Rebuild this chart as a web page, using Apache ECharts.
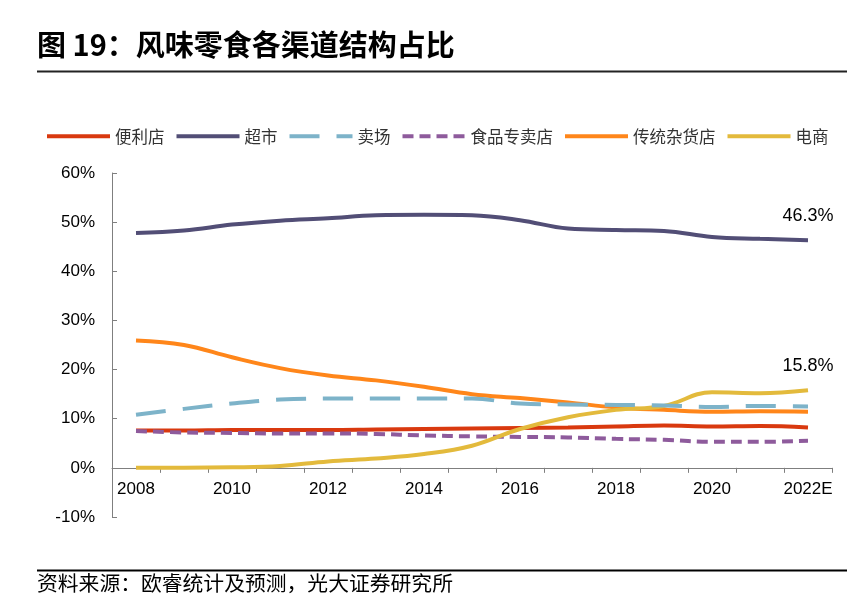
<!DOCTYPE html>
<html><head><meta charset="utf-8">
<script src="https://cdn.jsdelivr.net/npm/echarts@6/dist/echarts.min.js"></script>
<style>html,body{margin:0;padding:0;background:#fff}#c{width:864px;height:613px}</style>
</head><body><div id="c"></div>
<script>
const years = ['2008','2009','2010','2011','2012','2013','2014','2015','2016','2017','2018','2019','2020','2021','2022E'];
const yTicks = [-10, 0, 10, 20, 30, 40, 50, 60];
const convenience = [7.6, 7.6, 7.7, 7.7, 7.7, 7.8, 7.9, 8.0, 8.1, 8.2, 8.4, 8.6, 8.4, 8.5, 8.2];
const supermarket = [47.8, 48.3, 49.5, 50.3, 50.8, 51.4, 51.5, 51.4, 50.4, 48.7, 48.4, 48.2, 47.0, 46.6, 46.3];
const hypermarket = [10.8, 12.0, 13.1, 13.9, 14.1, 14.1, 14.1, 14.1, 13.1, 12.9, 12.8, 12.7, 12.4, 12.6, 12.5];
const specialty = [7.5, 7.2, 7.1, 7.0, 7.0, 6.9, 6.6, 6.4, 6.3, 6.2, 5.9, 5.7, 5.3, 5.3, 5.5];
const traditional = [25.9, 25.0, 22.5, 20.3, 18.8, 17.8, 16.5, 15.0, 14.2, 13.3, 12.3, 11.8, 11.4, 11.5, 11.4];
const ecommerce = [0.0, 0.0, 0.1, 0.4, 1.3, 1.9, 2.8, 4.5, 7.9, 10.3, 11.8, 12.6, 15.4, 15.2, 15.8];
const names = ['便利店','超市','卖场','食品专卖店','传统杂货店','电商'];
const colors = ['#D9390F','#524E76','#7DB3C9','#8E5B9C','#FF861A','#E3BA3C'];
const lineTypes = ['solid','solid',[30,17],[11,6],'solid','solid'];
const allData = [convenience, supermarket, hypermarket, specialty, traditional, ecommerce];
const labelled = {1: true, 5: true};

const chart = echarts.init(document.getElementById('c'), null, {renderer: 'canvas'});
const numFont = '"Liberation Sans", Arial, sans-serif';
const cjkFont = '"Noto Sans CJK SC", sans-serif';

const series = names.map((n, i) => ({
  name: n,
  type: 'line',
  data: allData[i].map((v, j) => {
    if (labelled[i] && j === allData[i].length - 1) {
      return {value: v,
        label: {show: true, position: 'top', distance: 15, formatter: v.toFixed(1) + '%',
        fontFamily: numFont, fontSize: 18, color: '#000'}};
    }
    return v;
  }),
  smooth: 0.4,
  symbol: 'circle',
  symbolSize: 0,
  showSymbol: true,
  legendIcon: 'none',
  lineStyle: {color: colors[i], width: 4, type: lineTypes[i]},
  itemStyle: {color: colors[i]},
  z: i === 2 ? 3 : 2
}));

chart.setOption({
  animation: false,
  backgroundColor: '#fff',
  title: {
    text: '图 19：风味零食各渠道结构占比',
    left: 32, top: 25,
    textStyle: {fontFamily: cjkFont, fontSize: 29, fontWeight: 'bold', color: '#000'}
  },
  legend: {
    data: names,
    left: 40, top: 123,
    itemWidth: 63, itemHeight: 14, itemGap: 10,
    itemStyle: {opacity: 0},
    lineStyle: {width: 4},
    textStyle: {fontFamily: cjkFont, fontSize: 16.5, color: '#333'}
  },
  grid: {left: 112, right: 32, top: 173, bottom: 96, containLabel: false},
  xAxis: {
    type: 'category',
    data: years,
    boundaryGap: true,
    axisLine: {onZero: true, lineStyle: {color: '#7f7f7f', width: 1}},
    axisTick: {show: true, interval: 0, length: 5, lineStyle: {color: '#7f7f7f'}},
    axisLabel: {interval: 1, margin: -36, fontFamily: numFont, fontSize: 17, color: '#000'},
    splitLine: {show: false}
  },
  yAxis: {
    type: 'value',
    min: yTicks[0], max: yTicks[yTicks.length - 1], interval: 10,
    axisLine: {show: true, lineStyle: {color: '#7f7f7f', width: 1}},
    axisTick: {show: true, inside: true, length: 5, lineStyle: {color: '#7f7f7f'}},
    axisLabel: {formatter: '{value}%', margin: 17, fontFamily: numFont, fontSize: 17, color: '#000'},
    splitLine: {show: false}
  },
  graphic: [
    {type: 'line', shape: {x1: 37, y1: 71.5, x2: 847, y2: 71.5}, style: {stroke: '#222', lineWidth: 2}},
    {type: 'line', shape: {x1: 37, y1: 570.5, x2: 847, y2: 570.5}, style: {stroke: '#000', lineWidth: 2}},
    {type: 'text', left: 37, top: 573, style: {text: '资料来源：欧睿统计及预测，光大证券研究所',
      font: '20.8px "Noto Sans CJK SC", sans-serif', fill: '#000'}}
  ],
  series: series
});
</script></body></html>
